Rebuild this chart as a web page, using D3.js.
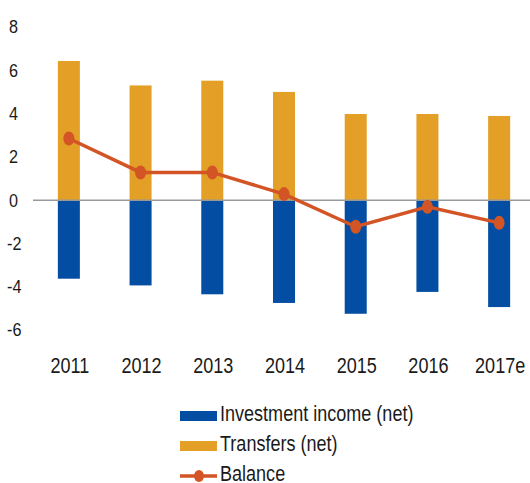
<!DOCTYPE html>
<html>
<head>
<meta charset="utf-8">
<script src="https://cdn.jsdelivr.net/npm/d3@7"></script>
<style>
  body { margin: 0; background: #fff; }
  text { font-family: "Liberation Sans", Arial, sans-serif; fill: #1a1a1a; }
</style>
</head>
<body>
<svg id="viz"></svg>
<script>
var width = 530;
var height = 483;

// data
var years = ["2011", "2012", "2013", "2014", "2015", "2016", "2017e"];
var investment = [-3.63, -3.94, -4.35, -4.75, -5.25, -4.24, -4.94];
var transfers = [6.43, 5.3, 5.52, 5.0, 3.98, 3.98, 3.89];
var balance = [2.85, 1.28, 1.28, 0.28, -1.23, -0.31, -1.05];
var yTicks = [8, 6, 4, 2, 0, -2, -4, -6];

var blue = "#034ea2";
var orange = "#e39f26";
var red = "#d35424";

var svg = d3.select("#viz").attr("width", width).attr("height", height);

var x = d3.scaleBand()
    .domain(years)
    .range([33, 535])
    .paddingInner(0.693)
    .paddingOuter(0.3465);

var y = d3.scaleLinear()
    .domain([-6, 8])
    .range([330, 27]);

// the original type is a narrow face, so squeeze it horizontally
function place(px, py, s) {
    return "translate(" + px + "," + py + ") scale(" + s + ",1)";
}

// y tick labels
svg.append("g")
  .selectAll("text")
  .data(yTicks)
  .enter().append("text")
    .attr("transform", function (d) { return place(d < 0 ? 7 : 9, y(d), 0.9); })
    .attr("dy", "0.36em")
    .attr("font-size", 18)
    .text(function (d) { return d < 0 ? "-" + Math.abs(d) : d; });

// bars
var rows = years.map(function (yr, i) {
    return { year: yr, inv: investment[i], tr: transfers[i], bal: balance[i] };
});

svg.append("g")
  .selectAll("rect")
  .data(rows)
  .enter().append("rect")
    .attr("x", function (d) { return x(d.year); })
    .attr("width", x.bandwidth())
    .attr("y", function (d) { return y(d.tr); })
    .attr("height", function (d) { return y(0) - y(d.tr); })
    .attr("fill", orange);

svg.append("g")
  .selectAll("rect")
  .data(rows)
  .enter().append("rect")
    .attr("x", function (d) { return x(d.year); })
    .attr("width", x.bandwidth())
    .attr("y", y(0))
    .attr("height", function (d) { return y(d.inv) - y(0); })
    .attr("fill", blue);

// zero line
svg.append("line")
    .attr("x1", 33).attr("x2", width)
    .attr("y1", y(0)).attr("y2", y(0))
    .attr("stroke", "#999")
    .attr("stroke-width", 1.5);

// balance line
var cx = function (d) { return x(d.year) + x.bandwidth() / 2; };

svg.append("path")
    .datum(rows)
    .attr("fill", "none")
    .attr("stroke", red)
    .attr("stroke-width", 3.5)
    .attr("d", d3.line().x(cx).y(function (d) { return y(d.bal); }));

svg.append("g")
  .selectAll("ellipse")
  .data(rows)
  .enter().append("ellipse")
    .attr("cx", cx)
    .attr("cy", function (d) { return y(d.bal); })
    .attr("rx", 5.5)
    .attr("ry", 7)
    .attr("fill", red);

// x labels
svg.append("g")
  .selectAll("text")
  .data(years)
  .enter().append("text")
    .attr("transform", function (d) { return place(x(d) + x.bandwidth() / 2 + 1, 373, 0.82); })
    .attr("text-anchor", "middle")
    .attr("font-size", 22)
    .text(function (d) { return d; });

// legend
var legend = svg.append("g").attr("transform", "translate(180,0)");
var items = ["Investment income (net)", "Transfers (net)", "Balance"];
var ly = [416, 446, 476];

legend.append("rect").attr("x", 0).attr("y", ly[0] - 5).attr("width", 37).attr("height", 10).attr("fill", blue);
legend.append("rect").attr("x", 0).attr("y", ly[1] - 5).attr("width", 37).attr("height", 10).attr("fill", orange);
legend.append("line").attr("x1", 0).attr("x2", 37).attr("y1", ly[2]).attr("y2", ly[2])
    .attr("stroke", red).attr("stroke-width", 3.5);
legend.append("ellipse").attr("cx", 19).attr("cy", ly[2]).attr("rx", 5).attr("ry", 6).attr("fill", red);

legend.selectAll("text.lab")
  .data(items)
  .enter().append("text")
    .attr("class", "lab")
    .attr("transform", function (d, i) { return place(40, ly[i] + 5, 0.82); })
    .attr("font-size", 22)
    .text(function (d) { return d; });
</script>
</body>
</html>
